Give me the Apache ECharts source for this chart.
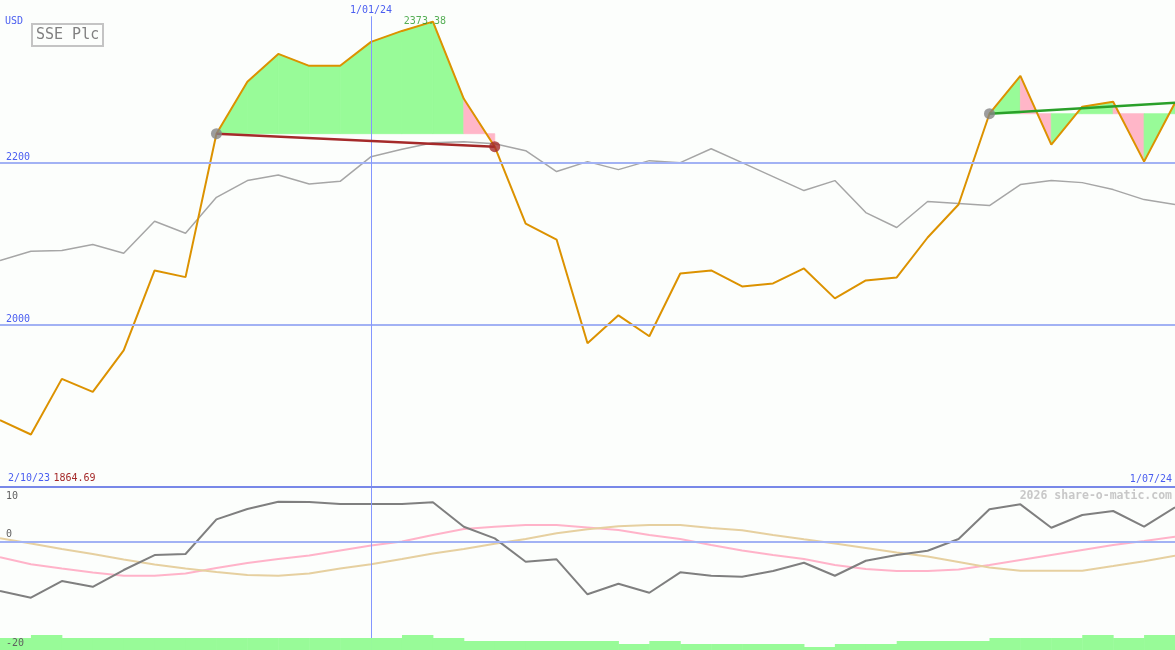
<!DOCTYPE html>
<html><head><meta charset="utf-8">
<script src="https://cdn.jsdelivr.net/npm/echarts@6/dist/echarts.min.js"></script>
<style>html,body{margin:0;padding:0;background:#fcfefc}#c{width:1175px;height:650px}</style>
</head><body><div id="c"></div><script>
// ---- data ----
const dateTicks = [0, 12, 38];
const dateLabels = ['2/10/23', '1/01/24', '1/07/24'];
const priceTicks = [2000, 2200];
const lowerTicksBottom = [-20, 0];
const lowerTicksTop = [10];
const price = [1882.4, 1864.69, 1933.2, 1917.2, 1968.4, 2066.8, 2058.6, 2235.3, 2299.2, 2333.6,
  2318.9, 2318.9, 2348.4, 2361.9, 2373.38, 2278.3, 2219.3, 2124.6, 2104.9, 1977.1,
  2011.5, 1985.7, 2063.1, 2066.8, 2047.1, 2050.8, 2069.3, 2032.4, 2054.5, 2058.2,
  2107.4, 2148.0, 2259.9, 2306.6, 2221.8, 2268.5, 2274.6, 2200.9, 2273.4];
const average = [2079.1, 2090.5, 2091.4, 2098.8, 2088.1, 2127.4, 2112.7, 2156.9, 2177.5, 2184.5,
  2173.4, 2176.6, 2207.0, 2216.0, 2224.2, 2225.4, 2223.0, 2214.4, 2188.6, 2200.9,
  2191.0, 2202.1, 2199.6, 2216.8, 2199.6, 2182.4, 2165.2, 2177.5, 2138.1, 2119.7,
  2151.7, 2149.3, 2146.8, 2172.6, 2177.5, 2175.0, 2166.4, 2154.1, 2147.9];
const momentum = [-9.15, -10.38, -7.31, -8.36, -5.28, -2.52, -2.33, 4.05, 5.95, 7.29,
  7.23, 6.87, 6.87, 6.87, 7.18, 2.69, 0.55, -3.75, -3.31, -9.75,
  -7.80, -9.46, -5.71, -6.33, -6.52, -5.47, -3.94, -6.33, -3.57, -2.52,
  -1.73, 0.42, 5.89, 6.81, 2.50, 4.84, 5.58, 2.69, 6.26];
const pinkWave = [-2.94, -4.23, -5.01, -5.74, -6.33, -6.33, -5.93, -4.91, -3.99, -3.26,
  -2.61, -1.69, -0.77, -0.04, 1.16, 2.26, 2.69, 3.00, 3.00, 2.54,
  2.08, 1.16, 0.42, -0.68, -1.69, -2.52, -3.26, -4.36, -5.10, -5.47,
  -5.47, -5.19, -4.36, -3.44, -2.52, -1.60, -0.68, 0.06, 0.85];
const tanWave = [0.55, -0.40, -1.42, -2.34, -3.35, -4.27, -5.01, -5.65, -6.20, -6.33,
  -5.93, -5.01, -4.23, -3.26, -2.25, -1.42, -0.44, 0.42, 1.47, 2.21,
  2.76, 3.00, 3.00, 2.45, 2.02, 1.16, 0.37, -0.40, -1.23, -2.06,
  -2.80, -3.81, -4.82, -5.41, -5.41, -5.41, -4.55, -3.68, -2.65];
const volumeLevels = [4, 5, 4, 4, 4, 4, 4, 4, 4, 4, 4, 4, 4, 5, 4, 3, 3, 3, 3, 3,
  2, 3, 2, 2, 2, 2, 1, 2, 2, 3, 3, 3, 4, 4, 4, 5, 4, 5];
const trendPeriods = [[7, 16], [32, 38]];
const endMarkers = [16];

// ---- derived structures ----
const xy = arr => arr.map((v, i) => [i, v]);
const fillSegs = [];
trendPeriods.forEach(([s, e]) => {
  const base = price[s];
  for (let i = s; i < e; i++) fillSegs.push([i, base, price[i + 1] >= base ? 0 : 1]);
});
const maxIdx = price.indexOf(Math.max(...price));
const minVal = Math.min(...price).toFixed(2);
const MONO = 'DejaVu Sans Mono';
const BLUE = '#4a5ef0';
const GRIDLINE = '#a2b2f4';
const VLINE = '#8496ff';

const trendSeries = trendPeriods.map(([s, e]) => ({
  type: 'line', xAxisIndex: 0, yAxisIndex: 0, z: 6, silent: true,
  data: [[s, price[s]], [e, price[e]]], showSymbol: false,
  lineStyle: { width: 2.5, color: price[e] < price[s] ? '#a52a2a' : '#2aa02a' }
}));

const hiddenAxisParts = { axisLine: { show: false }, axisTick: { show: false }, splitLine: { show: false } };

const option = {
  animation: false,
  backgroundColor: '#fcfefc',
  title: [
    { text: 'SSE Plc', left: 32, top: 24, borderColor: '#c4c4c4', borderWidth: 2, padding: [4, 4, 3, 4],
      textStyle: { fontFamily: MONO, fontSize: 15, color: '#808080', fontWeight: 'normal' } },
    { text: 'USD', left: 5, top: 16, padding: 0,
      textStyle: { fontFamily: MONO, fontSize: 10, color: BLUE, fontWeight: 'normal' } },
    { text: '2026 share-o-matic.com', right: 3, top: 490, padding: 0, z: 20,
      textStyle: { fontFamily: MONO, fontSize: 11.5, color: '#c8c8c8', fontWeight: 'bold' } }
  ],
  grid: [
    { left: 0, right: 0, top: 0, height: 487 },
    { left: 0, right: 0, top: 487, height: 163 }
  ],
  xAxis: [
    { gridIndex: 0, type: 'value', min: 0, max: 38, z: 20,
      axisLine: { show: true, lineStyle: { color: '#7888e8', width: 2 } },
      axisTick: { show: false }, splitLine: { show: false },
      axisLabel: { inside: true, margin: 3, customValues: [dateTicks[0], dateTicks[2]],
        alignMinLabel: 'left', alignMaxLabel: 'right', padding: [0, 3, 0, 8],
        formatter: v => v === dateTicks[0] ? '{d|' + dateLabels[0] + '} {m|' + minVal + '}' : '{d|' + dateLabels[2] + '}',
        rich: { d: { fontFamily: MONO, fontSize: 10, color: BLUE }, m: { fontFamily: MONO, fontSize: 10, color: '#a52a2a' } } } },
    { gridIndex: 1, type: 'value', min: 0, max: 38, show: false }
  ],
  yAxis: [
    { gridIndex: 0, type: 'value', min: 1800, max: 2400, position: 'left', z: 20, ...hiddenAxisParts,
      axisLabel: { inside: true, customValues: priceTicks, verticalAlign: 'bottom', margin: 6,
        formatter: v => String(v), fontFamily: MONO, fontSize: 10, color: BLUE } },
    { gridIndex: 1, type: 'value', min: -20, max: 10, position: 'left', z: 20, ...hiddenAxisParts,
      axisLabel: { inside: true, customValues: lowerTicksBottom, verticalAlign: 'bottom', margin: 6,
        padding: [0, 0, 2, 0], showMinLabel: true, formatter: v => String(v), fontFamily: MONO, fontSize: 10, color: '#606060' } },
    { gridIndex: 1, type: 'value', min: -20, max: 10, position: 'left', offset: 0, z: 20, ...hiddenAxisParts,
      axisLabel: { inside: true, customValues: lowerTicksTop, verticalAlign: 'top', margin: 6,
        padding: [4, 0, 0, 0], showMaxLabel: true, formatter: v => String(v), fontFamily: MONO, fontSize: 10, color: '#606060' } },
    { gridIndex: 1, type: 'value', min: 0, max: 163 / 3, show: false }
  ],
  series: [
    { type: 'line', xAxisIndex: 0, yAxisIndex: 0, data: [], z: 1, silent: true,
      markLine: { silent: true, symbol: ['none', 'none'], animation: false,
        label: { show: false }, lineStyle: { color: GRIDLINE, width: 2, type: 'solid' },
        data: priceTicks.map(t => ({ yAxis: t })) } },
    { type: 'line', xAxisIndex: 0, yAxisIndex: 0, data: [], z: 1, silent: true,
      markLine: { silent: true, symbol: ['none', 'none'], animation: false,
        lineStyle: { color: VLINE, width: 1, type: 'solid', opacity: 1 },
        label: { show: true, position: 'start', distance: 1, formatter: dateLabels[1],
          fontFamily: MONO, fontSize: 10, color: BLUE },
        data: [[{ coord: [dateTicks[1], 2380] }, { coord: [dateTicks[1], 1800] }]] } },
    { type: 'custom', xAxisIndex: 0, yAxisIndex: 0, z: 2, silent: true, data: fillSegs,
      renderItem: (params, api) => {
        const i = api.value(0), base = api.value(1), c = api.value(2);
        const col = c === 0 ? '#98fb98' : '#ffb6c8';
        const pts = [api.coord([i, base]), api.coord([i, price[i]]), api.coord([i + 1, price[i + 1]]), api.coord([i + 1, base])];
        return { type: 'polygon', shape: { points: pts }, style: { fill: col, stroke: col, lineWidth: 0.8 } };
      } },
    { type: 'line', xAxisIndex: 0, yAxisIndex: 0, z: 3, silent: true, data: xy(average), showSymbol: false,
      lineStyle: { width: 1.5, color: '#a6a6a6' } },
    { type: 'line', xAxisIndex: 0, yAxisIndex: 0, z: 4, silent: true, data: xy(price), showSymbol: false,
      lineStyle: { width: 2, color: '#dc9200' } },
    ...trendSeries,
    { type: 'scatter', xAxisIndex: 0, yAxisIndex: 0, z: 7, silent: true, symbolSize: 11,
      data: trendPeriods.map(([s]) => [s, price[s]]), itemStyle: { color: '#858585' } },
    { type: 'scatter', xAxisIndex: 0, yAxisIndex: 0, z: 7, silent: true, symbolSize: 11,
      data: endMarkers.map(e => [e, price[e]]), itemStyle: { color: '#a52a2a' } },
    { type: 'scatter', xAxisIndex: 0, yAxisIndex: 0, z: 8, silent: true, symbolSize: 1,
      data: [[maxIdx, price[maxIdx]]], itemStyle: { color: 'transparent' },
      label: { show: true, position: 'inside', offset: [-8, 0], formatter: p => p.value[1].toFixed(2),
        fontFamily: MONO, fontSize: 10, color: '#2a9a2a' } },
    { type: 'line', xAxisIndex: 1, yAxisIndex: 1, data: [], z: 1, silent: true,
      markLine: { silent: true, symbol: ['none', 'none'], animation: false, label: { show: false },
        lineStyle: { color: GRIDLINE, width: 2, type: 'solid' },
        data: [{ yAxis: 0 }] } },
    { type: 'line', xAxisIndex: 1, yAxisIndex: 1, data: [], z: 1, silent: true,
      markLine: { silent: true, symbol: ['none', 'none'], animation: false, label: { show: false },
        lineStyle: { color: VLINE, width: 1, type: 'solid', opacity: 1 },
        data: [{ xAxis: dateTicks[1] }] } },
    { type: 'line', xAxisIndex: 1, yAxisIndex: 1, z: 3, silent: true, data: xy(pinkWave), showSymbol: false,
      lineStyle: { width: 2, color: '#ffb3c9' } },
    { type: 'line', xAxisIndex: 1, yAxisIndex: 1, z: 3, silent: true, data: xy(tanWave), showSymbol: false,
      lineStyle: { width: 2, color: '#e6d0a0' } },
    { type: 'line', xAxisIndex: 1, yAxisIndex: 1, z: 4, silent: true, data: xy(momentum), showSymbol: false,
      lineStyle: { width: 2, color: '#7f7f7f' } },
    { type: 'custom', xAxisIndex: 1, yAxisIndex: 3, z: 5, silent: true, data: volumeLevels.map((v, i) => [i, v]),
      renderItem: (params, api) => {
        const i = api.value(0), v = api.value(1);
        const a = api.coord([i, v]), b = api.coord([i + 1, 0]);
        return { type: 'rect', shape: { x: a[0], y: a[1], width: b[0] - a[0] + 0.5, height: b[1] - a[1] },
          style: { fill: '#98fb98' } };
      } }
  ]
};
echarts.init(document.getElementById('c')).setOption(option);
</script></body></html>
